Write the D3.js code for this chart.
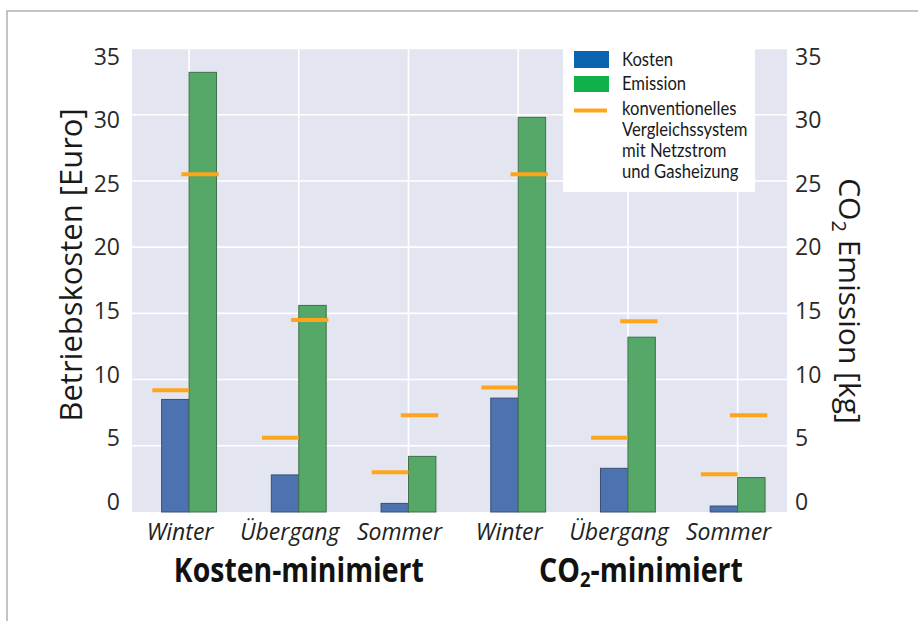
<!DOCTYPE html>
<html>
<head>
<meta charset="utf-8">
<script src="https://cdn.jsdelivr.net/npm/d3@7"></script>
<style>
html,body{margin:0;padding:0;background:#fff;}
svg{display:block;}
</style>
</head>
<body>
<svg id="chart" width="918" height="621"></svg>
<script>
// ---- data ----
const categories = ["Winter", "Übergang", "Sommer", "Winter", "Übergang", "Sommer"];
const groups = ["Kosten-minimiert", "CO2-minimiert"];
const kosten = [8.5, 2.8, 0.65, 8.6, 3.3, 0.45];
const emission = [33.2, 15.6, 4.2, 29.8, 13.2, 2.6];
const refKosten = [9.2, 5.6, 3.0, 9.4, 5.6, 2.85];
const refEmission = [25.5, 14.5, 7.3, 25.5, 14.4, 7.3];
const yTicks = [0, 5, 10, 15, 20, 25, 30, 35];
const legendLabels = ["Kosten", "Emission", "konventionelles", "Vergleichssystem", "mit Netzstrom", "und Gasheizung"];

const svg = d3.select("#chart");
const W = 918, H = 621;
const FONT = "'Open Sans', sans-serif";

// frame
svg.append("rect").attr("x", 7).attr("y", 11).attr("width", W).attr("height", H)
  .attr("fill", "#fff").attr("stroke", "#b0b0b0").attr("stroke-width", 1.5);

const plot = {left: 132, right: 787, top: 48.5, bottom: 512};
const x = d3.scaleLinear().domain([-0.52, 5.45]).range([plot.left, plot.right]);
const y = d3.scaleLinear().domain([0, 35]).range([plot.bottom, plot.top]);
const yLab = d3.scaleLinear().domain([0, 35]).range([502, 56.5]);
const idx = d3.range(categories.length);
const bw = 0.25;

// background
svg.append("rect").attr("x", plot.left).attr("y", plot.top)
  .attr("width", plot.right - plot.left).attr("height", plot.bottom - plot.top)
  .attr("fill", "#e3e6f0");

// gridlines
svg.append("g").selectAll("line").data(yTicks.slice(1)).join("line")
  .attr("x1", plot.left).attr("x2", plot.right)
  .attr("y1", d => y(d)).attr("y2", d => y(d))
  .attr("stroke", "#fff").attr("stroke-width", 1.6);
svg.append("g").selectAll("line").data(idx).join("line")
  .attr("x1", d => x(d)).attr("x2", d => x(d))
  .attr("y1", plot.top).attr("y2", plot.bottom)
  .attr("stroke", "#fff").attr("stroke-width", 1.6);

// bars
svg.append("g").selectAll("rect").data(idx).join("rect")
  .attr("x", i => x(i - bw)).attr("width", i => x(i) - x(i - bw))
  .attr("y", i => y(kosten[i])).attr("height", i => y(0) - y(kosten[i]))
  .attr("fill", "#4c72b0").attr("stroke", "#3a4f70").attr("stroke-width", 1);
svg.append("g").selectAll("rect").data(idx).join("rect")
  .attr("x", i => x(i)).attr("width", i => x(i + bw) - x(i))
  .attr("y", i => y(emission[i])).attr("height", i => y(0) - y(emission[i]))
  .attr("fill", "#55a868").attr("stroke", "#3f6f4a").attr("stroke-width", 1);

// reference lines
const orange = "#ffa51c";
svg.append("g").selectAll("line").data(idx).join("line")
  .attr("x1", i => x(i - 0.335)).attr("x2", i => x(i))
  .attr("y1", i => y(refKosten[i])).attr("y2", i => y(refKosten[i]))
  .attr("stroke", orange).attr("stroke-width", 4);
svg.append("g").selectAll("line").data(idx).join("line")
  .attr("x1", i => x(i - 0.07)).attr("x2", i => x(i + 0.27))
  .attr("y1", i => y(refEmission[i])).attr("y2", i => y(refEmission[i]))
  .attr("stroke", orange).attr("stroke-width", 4);

// tick labels
svg.append("g").selectAll("text").data(yTicks).join("text")
  .attr("x", 120).attr("y", d => yLab(d)).attr("dy", "0.35em")
  .attr("text-anchor", "end").attr("font-family", FONT).attr("font-size", 23)
  .attr("fill", "#2a2a2a").text(d => d);
svg.append("g").selectAll("text").data(yTicks).join("text")
  .attr("x", 795).attr("y", d => yLab(d)).attr("dy", "0.35em")
  .attr("text-anchor", "start").attr("font-family", FONT).attr("font-size", 23)
  .attr("fill", "#2a2a2a").text(d => d);

// axis titles
svg.append("text").attr("transform", "translate(82,265) rotate(-90)")
  .attr("text-anchor", "middle").attr("font-family", FONT).attr("font-size", 31)
  .attr("fill", "#1a1a1a").text("Betriebskosten [Euro]");
const rt = svg.append("text").attr("transform", "translate(839,301) rotate(90)")
  .attr("text-anchor", "middle").attr("font-family", FONT).attr("font-size", 30)
  .attr("fill", "#1a1a1a");
rt.append("tspan").text("CO");
rt.append("tspan").attr("font-size", 20).attr("dy", 7).text("2");
rt.append("tspan").attr("dy", -7).text(" Emission [kg]");

// category labels
svg.append("g").selectAll("text").data(idx).join("text")
  .attr("x", i => x(i) - 9).attr("y", 540)
  .attr("text-anchor", "middle").attr("font-family", FONT).attr("font-style", "italic")
  .attr("font-size", 23).attr("fill", "#222").text(i => categories[i]);

// group labels (condensed to the reference widths)
function fitX(sel, cx, cy, target) {
  const len = sel.node().getComputedTextLength();
  sel.attr("transform", `translate(${cx},${cy}) scale(${target / len},1)`);
}
const g1 = svg.append("text").attr("text-anchor", "middle")
  .attr("font-family", FONT).attr("font-weight", "bold").attr("font-size", 34)
  .attr("fill", "#111").text(groups[0]);
fitX(g1, x(1), 582, 250);
const g2 = svg.append("text").attr("text-anchor", "middle")
  .attr("font-family", FONT).attr("font-weight", "bold").attr("font-size", 34)
  .attr("fill", "#111");
g2.append("tspan").text(groups[1].slice(0, 2));
g2.append("tspan").attr("font-size", 22).attr("dy", 5).text(groups[1].slice(2, 3));
g2.append("tspan").attr("dy", -5).text(groups[1].slice(3));
fitX(g2, x(4) + 13, 582, 204);

// legend
const lg = svg.append("g");
lg.append("rect").attr("x", 563).attr("y", 44).attr("width", 192).attr("height", 148).attr("fill", "#fff");
lg.append("rect").attr("x", 574).attr("y", 51).attr("width", 35).attr("height", 17).attr("fill", "#0a64af");
lg.append("rect").attr("x", 574).attr("y", 76).attr("width", 35).attr("height", 16).attr("fill", "#10b04b");
lg.append("line").attr("x1", 574).attr("x2", 607).attr("y1", 110.5).attr("y2", 110.5)
  .attr("stroke", orange).attr("stroke-width", 4);
const legY = [66, 90, 115, 136, 157, 178];
lg.selectAll("text.l").data(legendLabels).join("text").attr("class", "l")
  .attr("transform", (d, i) => `translate(622,${legY[i]}) scale(0.9,1)`)
  .attr("font-family", "Lato, sans-serif").attr("font-size", 18.5).attr("fill", "#1a1a1a")
  .text(d => d);
</script>
</body>
</html>
